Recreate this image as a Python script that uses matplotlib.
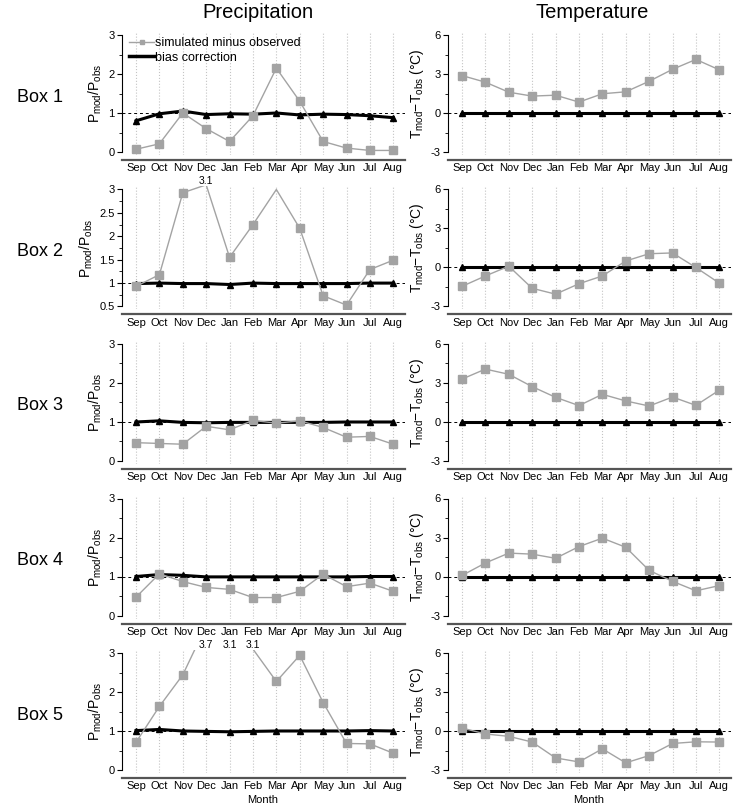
import numpy as np
import matplotlib
matplotlib.use("Agg")
import matplotlib.pyplot as plt
from matplotlib.lines import Line2D
from matplotlib.ticker import MultipleLocator, FormatStrFormatter

plt.rcParams['font.family'] = ['Liberation Sans', 'DejaVu Sans']
plt.rcParams['mathtext.fontset'] = 'custom'
plt.rcParams['mathtext.rm'] = 'Liberation Sans'
plt.rcParams['mathtext.it'] = 'Liberation Sans:italic'

# ---------------- data ----------------
months = ['Sep', 'Oct', 'Nov', 'Dec', 'Jan', 'Feb', 'Mar', 'Apr', 'May', 'Jun', 'Jul', 'Aug']
box_labels = ['Box 1', 'Box 2', 'Box 3', 'Box 4', 'Box 5']
col_titles = ['Precipitation', 'Temperature']
legend_labels = ['simulated minus observed', 'bias correction']
x_label = 'Month'

# precipitation ratio P_mod/P_obs
p_sim_1 = [0.07, 0.21, 1.00, 0.60, 0.27, 0.93, 2.15, 1.30, 0.27, 0.10, 0.04, 0.04]
p_bc_1 = [0.80, 0.98, 1.05, 0.96, 0.98, 0.97, 1.00, 0.95, 0.97, 0.96, 0.93, 0.88]
p_sim_2 = [0.93, 1.18, 2.93, 3.10, 1.55, 2.25, 3.00, 2.17, 0.73, 0.53, 1.29, 1.49]
p_bc_2 = [0.99, 1.00, 0.99, 0.99, 0.97, 1.00, 0.99, 0.99, 0.99, 0.99, 1.00, 1.00]
p_sim_3 = [0.47, 0.45, 0.43, 0.89, 0.80, 1.04, 0.97, 1.03, 0.86, 0.61, 0.63, 0.43]
p_bc_3 = [1.00, 1.03, 0.99, 0.98, 0.99, 0.99, 0.99, 0.99, 0.99, 1.00, 1.00, 1.00]
p_sim_4 = [0.47, 1.07, 0.87, 0.72, 0.67, 0.46, 0.46, 0.62, 1.06, 0.74, 0.83, 0.62]
p_bc_4 = [1.00, 1.05, 1.03, 0.99, 0.99, 0.99, 0.99, 0.99, 0.99, 0.99, 1.00, 1.00]
p_sim_5 = [0.71, 1.63, 2.44, 3.70, 3.10, 3.10, 2.27, 2.94, 1.73, 0.68, 0.67, 0.43]
p_bc_5 = [1.01, 1.04, 1.00, 0.99, 0.98, 0.99, 1.00, 1.00, 1.00, 1.00, 1.01, 1.00]

# temperature difference T_mod - T_obs (degC)
t_sim_1 = [2.88, 2.37, 1.60, 1.30, 1.37, 0.84, 1.48, 1.63, 2.44, 3.36, 4.12, 3.32]
t_bc_1 = [0, 0, 0, 0, 0, 0, 0, 0, 0, 0, 0, 0]
t_sim_2 = [-1.45, -0.65, 0.10, -1.60, -2.05, -1.25, -0.65, 0.50, 1.06, 1.12, 0.00, -1.20]
t_bc_2 = [0, 0, 0, 0, 0, 0, 0, 0, 0, 0, 0, 0]
t_sim_3 = [3.30, 4.07, 3.67, 2.72, 1.90, 1.26, 2.13, 1.62, 1.23, 1.92, 1.28, 2.45]
t_bc_3 = [0, 0, 0, 0, 0, 0, 0, 0, 0, 0, 0, 0]
t_sim_4 = [0.08, 1.04, 1.80, 1.72, 1.40, 2.30, 2.95, 2.25, 0.47, -0.37, -1.10, -0.70]
t_bc_4 = [0, 0, 0, 0, 0, 0, 0, 0, 0, 0, 0, 0]
t_sim_5 = [0.23, -0.23, -0.41, -0.85, -2.07, -2.38, -1.37, -2.45, -1.89, -0.96, -0.83, -0.85]
t_bc_5 = [0, 0, 0, 0, 0, 0, 0, 0, 0, 0, 0, 0]

p_sims = [p_sim_1, p_sim_2, p_sim_3, p_sim_4, p_sim_5]
p_bcs = [p_bc_1, p_bc_2, p_bc_3, p_bc_4, p_bc_5]
t_sims = [t_sim_1, t_sim_2, t_sim_3, t_sim_4, t_sim_5]
t_bcs = [t_bc_1, t_bc_2, t_bc_3, t_bc_4, t_bc_5]

p_ranges = [(0, 3), (0.5, 3), (0, 3), (0, 3), (0, 3)]
p_steps = [1, 0.5, 1, 1, 1]
t_range = (-3, 6)
t_step = 3

# ---------------- layout ----------------
W, H = 733, 808
fig = plt.figure(figsize=(W / 100, H / 100), dpi=100)

GRAY = '#a3a3a3'
x = np.arange(len(months))


def add_px_axes(x0, x1, ytop, ybot):
    return fig.add_axes([x0 / W, 1 - ybot / H, (x1 - x0) / W, (ybot - ytop) / H])


def draw_panel(ax, sim, bc, yr, step, ref, ylabel, fmt):
    a, b = yr
    u = (b - a) / 117.0
    ax.set_ylim(a - 3 * u, b + 3 * u)
    ax.set_xlim(-0.62, 11.5)
    ax.axhline(ref, color='k', lw=0.7, ls=(0, (3, 3)), zorder=1)
    ax.plot(x, bc, color='k', lw=2.2, marker='^', ms=4, zorder=3)
    sim = np.asarray(sim, dtype=float)
    ax.plot(x, sim, color=GRAY, lw=1.0, zorder=4)
    ax.plot(x, np.ma.masked_greater_equal(sim, b), ls='none', marker='s', ms=5.5,
            color=GRAY, mec=GRAY, zorder=4)
    for j, v in enumerate(sim):
        if v > b:
            ax.annotate(f'{v:.1f}', xy=(j, b), xytext=(0, 6.0), textcoords='offset points',
                        ha='center', va='center', fontsize=7.5, annotation_clip=False)
    ax.grid(axis='x', ls=':', color='#c4c4c4', lw=0.8)
    ax.set_axisbelow(True)
    ax.set_xticks(x, months)
    ax.yaxis.set_major_locator(MultipleLocator(step))
    ax.yaxis.set_minor_locator(MultipleLocator(step / 2))
    ax.yaxis.set_major_formatter(FormatStrFormatter(fmt))
    ax.set_yticks([t for t in ax.get_yticks() if a - 1e-9 <= t <= b + 1e-9])
    for sp in ['top', 'right']:
        ax.spines[sp].set_visible(False)
    ax.spines['left'].set_bounds(a, b)
    ax.spines['left'].set_linewidth(0.8)
    ax.spines['bottom'].set_position(('outward', 3.6))
    ax.spines['bottom'].set_linewidth(1.6)
    ax.spines['bottom'].set_color('#555555')
    ax.tick_params(axis='x', length=0, pad=2.5, labelsize=8)
    ax.tick_params(axis='y', which='major', length=3.5, width=0.8, labelsize=8, pad=1.5)
    ax.tick_params(axis='y', which='minor', length=2, width=0.6)
    ax.set_ylabel(ylabel, fontsize=10, labelpad=3)


for i in range(5):
    T = 35 + 154.5 * i
    B = T + 117
    axp = add_px_axes(121.5, 405.0, T - 3, B + 3)
    draw_panel(axp, p_sims[i], p_bcs[i], p_ranges[i], p_steps[i], 1,
               r'$\mathrm{P_{mod}/P_{obs}}$', '%g')
    axt = add_px_axes(447.5, 731.0, T - 3, B + 3)
    draw_panel(axt, t_sims[i], t_bcs[i], t_range, t_step, 0,
               r'$\mathrm{T_{mod}{-}T_{obs}}$ (°C)', '%g')
    fig.text(40 / W, 1 - (T + 62) / H, box_labels[i], fontsize=13,
             ha='center', va='center')
    if i == 0:
        handles = [Line2D([], [], color=GRAY, lw=1.0, marker='s', ms=2.5),
                   Line2D([], [], color='k', lw=2.5)]
        axp.legend(handles, legend_labels, loc='upper left', frameon=False, fontsize=9,
                   handlelength=2.0, handletextpad=0.1, labelspacing=0.2,
                   borderaxespad=0.2, bbox_to_anchor=(0.0, 1.02))

fig.text(263 / W, 1 - 800 / H, x_label, fontsize=8, ha='center', va='center')
fig.text(589 / W, 1 - 800 / H, x_label, fontsize=8, ha='center', va='center')

fig.text(258 / W, 1 - 13 / H, col_titles[0], fontsize=14.5, ha='center', va='center')
fig.text(592 / W, 1 - 13 / H, col_titles[1], fontsize=14.5, ha='center', va='center')

fig.savefig('out.png', dpi=100)
